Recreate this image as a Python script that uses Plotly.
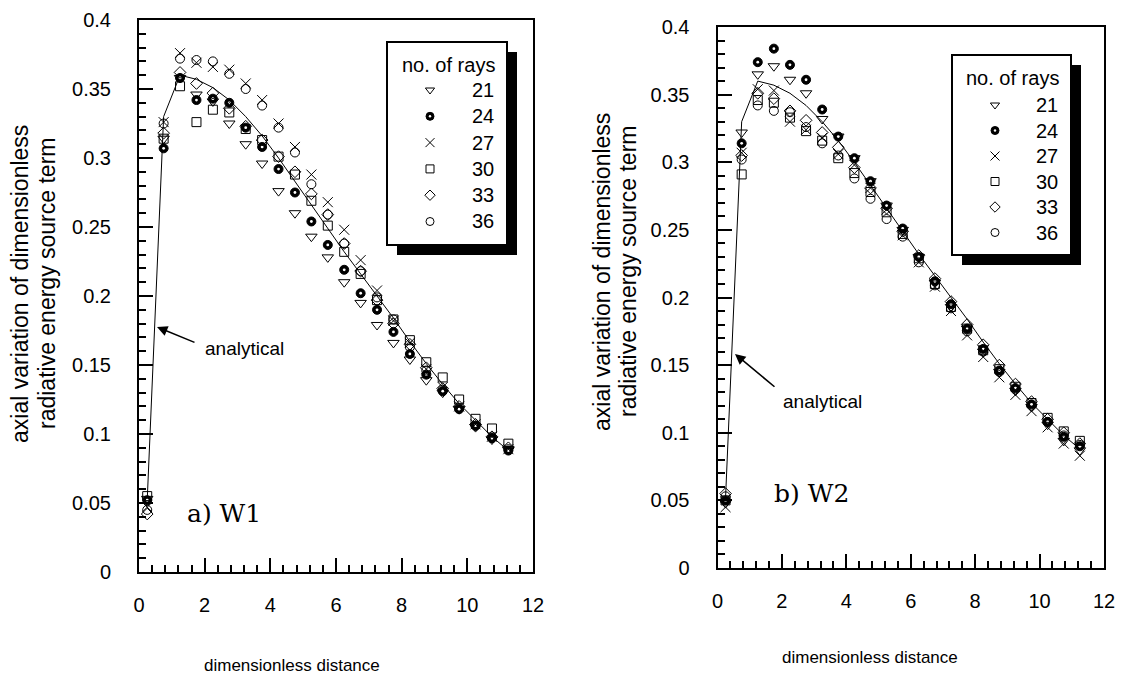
import plotly.graph_objects as go

# ---------------- data ----------------
x_pos = [0.25, 0.75, 1.25, 1.75, 2.25, 2.75, 3.25, 3.75, 4.25, 4.75, 5.25, 5.75,
         6.25, 6.75, 7.25, 7.75, 8.25, 8.75, 9.25, 9.75, 10.25, 10.75, 11.25]

analytical = [0.052, 0.330, 0.360, 0.357, 0.351, 0.342, 0.330, 0.316, 0.300, 0.283, 0.266, 0.249,
              0.232, 0.216, 0.200, 0.184, 0.167, 0.151, 0.136, 0.122, 0.110, 0.098, 0.088]

ray_labels = ["21", "24", "27", "30", "33", "36"]

w1_21 = [0.053, 0.314, 0.358, 0.346, 0.341, 0.325, 0.310, 0.296, 0.276, 0.260, 0.243, 0.228,
         0.210, 0.195, 0.179, 0.166, 0.154, 0.139, 0.130, 0.118, 0.105, 0.096, 0.089]
w1_24 = [0.052, 0.307, 0.358, 0.342, 0.343, 0.340, 0.322, 0.308, 0.292, 0.275, 0.254, 0.237,
         0.219, 0.202, 0.190, 0.174, 0.158, 0.143, 0.131, 0.118, 0.106, 0.097, 0.088]
w1_27 = [0.047, 0.326, 0.376, 0.369, 0.366, 0.364, 0.354, 0.342, 0.325, 0.308, 0.288, 0.268,
         0.248, 0.226, 0.204, 0.182, 0.166, 0.147, 0.134, 0.120, 0.107, 0.098, 0.089]
w1_30 = [0.055, 0.314, 0.352, 0.326, 0.335, 0.333, 0.321, 0.313, 0.301, 0.288, 0.269, 0.251,
         0.232, 0.216, 0.197, 0.183, 0.168, 0.152, 0.141, 0.125, 0.111, 0.104, 0.093]
w1_33 = [0.042, 0.318, 0.362, 0.354, 0.347, 0.336, 0.323, 0.313, 0.301, 0.290, 0.274, 0.259,
         0.238, 0.218, 0.197, 0.180, 0.165, 0.148, 0.133, 0.120, 0.107, 0.098, 0.090]
w1_36 = [0.045, 0.325, 0.372, 0.371, 0.370, 0.361, 0.350, 0.338, 0.322, 0.304, 0.281, 0.259,
         0.238, 0.218, 0.199, 0.183, 0.163, 0.146, 0.132, 0.119, 0.106, 0.097, 0.089]

w2_21 = [0.048, 0.322, 0.365, 0.371, 0.361, 0.351, 0.332, 0.319, 0.303, 0.286, 0.268, 0.250,
         0.230, 0.211, 0.193, 0.177, 0.160, 0.145, 0.131, 0.119, 0.106, 0.094, 0.087]
w2_24 = [0.050, 0.314, 0.374, 0.384, 0.372, 0.361, 0.339, 0.319, 0.303, 0.286, 0.268, 0.251,
         0.230, 0.212, 0.195, 0.177, 0.162, 0.146, 0.133, 0.121, 0.108, 0.097, 0.090]
w2_27 = [0.045, 0.307, 0.354, 0.353, 0.330, 0.324, 0.318, 0.306, 0.298, 0.281, 0.265, 0.246,
         0.226, 0.208, 0.190, 0.172, 0.156, 0.141, 0.128, 0.116, 0.104, 0.092, 0.083]
w2_30 = [0.050, 0.291, 0.346, 0.344, 0.333, 0.323, 0.316, 0.303, 0.292, 0.278, 0.263, 0.247,
         0.229, 0.210, 0.193, 0.177, 0.161, 0.147, 0.134, 0.122, 0.111, 0.101, 0.094]
w2_33 = [0.055, 0.305, 0.351, 0.347, 0.338, 0.331, 0.322, 0.311, 0.296, 0.281, 0.266, 0.249,
         0.231, 0.214, 0.197, 0.180, 0.165, 0.150, 0.136, 0.123, 0.110, 0.100, 0.092]
w2_36 = [0.053, 0.302, 0.342, 0.338, 0.337, 0.326, 0.314, 0.305, 0.288, 0.273, 0.258, 0.245,
         0.226, 0.209, 0.192, 0.175, 0.160, 0.145, 0.132, 0.120, 0.108, 0.098, 0.091]

w1_series = [w1_21, w1_24, w1_27, w1_30, w1_33, w1_36]
w2_series = [w2_21, w2_24, w2_27, w2_30, w2_33, w2_36]

y_ticks = [0, 0.05, 0.1, 0.15, 0.2, 0.25, 0.3, 0.35, 0.4]
y_tick_text = ["0", "0.05", "0.1", "0.15", "0.2", "0.25", "0.3", "0.35", "0.4"]
x_ticks = [0, 2, 4, 6, 8, 10, 12]

# ---------------- styles ----------------
SANS = "Liberation Sans, Arial, sans-serif"
symbols = ["triangle-down-open", "circle", "x-thin-open", "square-open", "diamond-open", "circle-open"]
sizes = [10, 9, 10, 9, 9, 9]
legend_sizes = [8, 8, 9, 8, 8, 8]
W, H = 1124, 675


def add_series(fig, xs, ys, sym, sz, xa, ya, dot_size):
    if sym == "circle":
        fig.add_trace(go.Scatter(x=xs, y=ys, mode="markers", xaxis=xa, yaxis=ya,
                                 showlegend=False, hoverinfo="skip",
                                 marker=dict(symbol="circle", size=sz, color="black",
                                             line=dict(color="black", width=1))))
        fig.add_trace(go.Scatter(x=xs, y=ys, mode="markers", xaxis=xa, yaxis=ya,
                                 showlegend=False, hoverinfo="skip",
                                 marker=dict(symbol="circle", size=dot_size, color="white",
                                             line=dict(width=0))))
    else:
        fig.add_trace(go.Scatter(x=xs, y=ys, mode="markers", xaxis=xa, yaxis=ya,
                                 showlegend=False, hoverinfo="skip",
                                 marker=dict(symbol=sym, size=sz, color="black",
                                             line=dict(color="black", width=1))))


fig = go.Figure()

for xa, ya, series in [("x", "y", w1_series), ("x2", "y2", w2_series)]:
    fig.add_trace(go.Scatter(x=x_pos, y=analytical, mode="lines", xaxis=xa, yaxis=ya,
                             line=dict(color="black", width=1), showlegend=False,
                             hoverinfo="skip"))
    for vals, sym, sz in zip(series, symbols, sizes):
        add_series(fig, x_pos, vals, sym, sz, xa, ya, 2.8)

axis_common = dict(showline=True, linecolor="black", linewidth=2, mirror=True,
                   ticks="inside", tickcolor="black", tickwidth=2, ticklen=14,
                   showgrid=False, zeroline=False, automargin=False,
                   tickfont=dict(family=SANS, size=20, color="black"))

xa_common = dict(axis_common, range=[0, 12], tickmode="array", tickvals=x_ticks,
                 ticklabelstandoff=14,
                 minor=dict(ticks="inside", dtick=0.4, tick0=0, ticklen=7, tickwidth=2,
                            tickcolor="black", showgrid=False))
ya_common = dict(axis_common, range=[0, 0.4], tickmode="array", tickvals=y_ticks,
                 ticktext=y_tick_text, ticklabelstandoff=22,
                 minor=dict(ticks="inside", dtick=0.01, tick0=0, ticklen=7, tickwidth=2,
                            tickcolor="black", showgrid=False))

fig.update_layout(
    template="none", showlegend=False,
    width=W, height=H, margin=dict(l=0, r=0, t=0, b=0, autoexpand=False),
    paper_bgcolor="white", plot_bgcolor="rgba(0,0,0,0)",
    font=dict(family=SANS, color="black"),
    xaxis=dict(xa_common, domain=[139 / W, 533 / W], anchor="y"),
    yaxis=dict(ya_common, domain=[1 - 572 / H, 1 - 20 / H], anchor="x"),
    xaxis2=dict(xa_common, domain=[717.5 / W, 1104 / W], anchor="y2"),
    yaxis2=dict(ya_common, domain=[1 - 568 / H, 1 - 27 / H], anchor="x2"),
    # page-pixel overlay used only to place the legend key symbols
    xaxis3=dict(domain=[0, 1], range=[0, W], visible=False, fixedrange=True, anchor="y3"),
    yaxis3=dict(domain=[0, 1], range=[H, 0], visible=False, fixedrange=True, anchor="x3"),
)

C = dict(xanchor="center", yanchor="middle", showarrow=False, xref="paper", yref="paper")
ann = []

# ---- legend boxes (shadow + framed box), title, rows ----
legend_boxes = [
    # box (x0, y0, x1, y1), title centre, symbol x, number right edge, first row y, row step
    ((387, 42, 507, 245), (448, 65), 430, 496, 90, 26.3),
    ((952, 55, 1071, 255), (1012, 78), 995, 1060, 105, 25.5),
]
for (bx0, by0, bx1, by1), (tx, ty), sx, nx, ry0, rstep in legend_boxes:
    fig.add_shape(type="rect", xref="paper", yref="paper",
                  x0=(bx0 + 10) / W, x1=(bx1 + 10) / W, y0=1 - (by1 + 10) / H, y1=1 - (by0 + 10) / H,
                  fillcolor="black", line=dict(width=0), layer="below")
    fig.add_shape(type="rect", xref="paper", yref="paper",
                  x0=bx0 / W, x1=bx1 / W, y0=1 - by1 / H, y1=1 - by0 / H,
                  fillcolor="white", line=dict(color="black", width=2), layer="below")
    ann.append(dict(C, text="no. of rays", x=tx / W, y=1 - ty / H,
                    font=dict(family=SANS, size=20, color="black")))
    for i, (lab, sym, ls) in enumerate(zip(ray_labels, symbols, legend_sizes)):
        ry = ry0 + i * rstep
        add_series(fig, [sx], [ry], sym, ls, "x3", "y3", 2.4)
        ann.append(dict(C, text=lab, x=nx / W, y=1 - ry / H, xanchor="right",
                        font=dict(family=SANS, size=20, color="black")))

# y-axis titles (two rotated lines each)
for x1c, x2c, yc in [(20, 47, 284), (602, 628, 272)]:
    for txt, xc in [("axial variation of dimensionless", x1c),
                    ("radiative energy source term", x2c)]:
        ann.append(dict(C, text=txt, x=xc / W, y=1 - yc / H,
                        textangle=-90, font=dict(family=SANS, size=23, color="black")))
# x-axis titles
for xc, yc in [(292, 665), (870, 657)]:
    ann.append(dict(C, text="dimensionless distance", x=xc / W, y=1 - yc / H,
                    font=dict(family=SANS, size=17, color="black")))
# panel labels
for txt, xc, yc in [("a) W1", 224, 513), ("b) W2", 811, 493)]:
    ann.append(dict(C, text=txt, x=xc / W, y=1 - yc / H,
                    font=dict(family="DejaVu Serif", size=25, color="black")))
# analytical labels + arrows
for (tx, ty), (hx, hy), (sx, sy) in [((244, 348), (157, 327), (196, 343)),
                                      ((823, 401), (735, 354), (776, 388))]:
    ann.append(dict(C, text="analytical", x=tx / W, y=1 - ty / H,
                    font=dict(family=SANS, size=19, color="black")))
    ann.append(dict(text="", xref="paper", yref="paper", x=hx / W, y=1 - hy / H,
                    ax=sx - hx, ay=sy - hy, showarrow=True, arrowhead=2, arrowsize=1.3,
                    arrowwidth=1.6, arrowcolor="black", standoff=0))
fig.update_layout(annotations=ann)

fig.write_html("out.html", config={"displayModeBar": False},
               post_script="document.body.style.margin='0px';document.body.style.overflow='hidden';")
